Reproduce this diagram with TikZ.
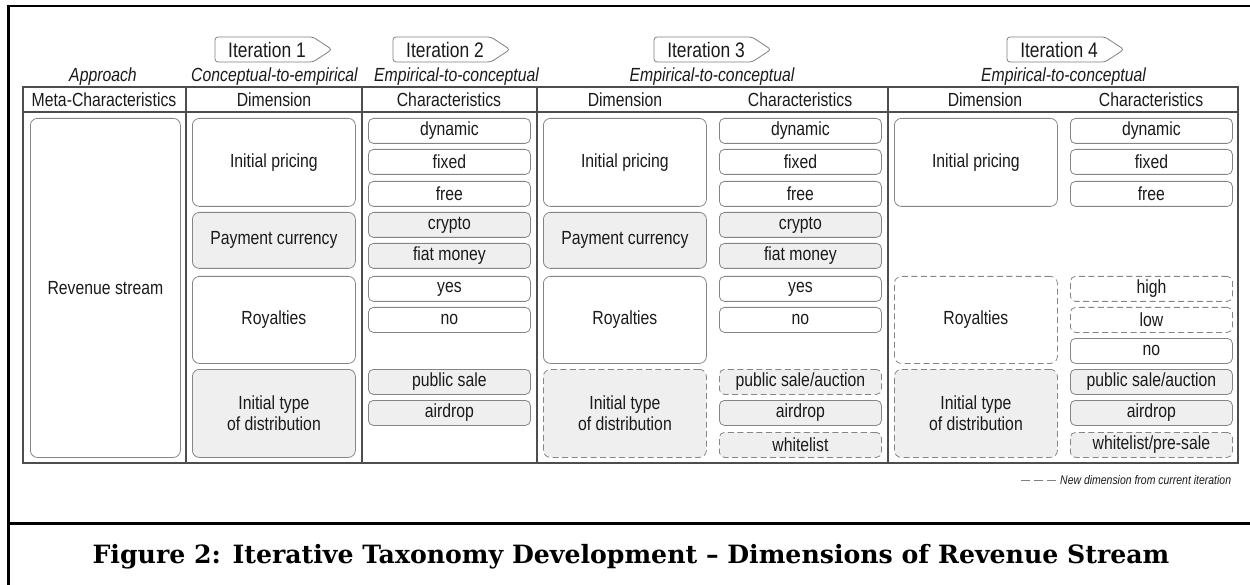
\documentclass[tikz,border=0pt]{standalone}
\usepackage{fontspec}
\setmainfont{Liberation Sans}[FakeStretch=0.83]
\newfontfamily\captionserif{DejaVu Serif}
\definecolor{rulec}{HTML}{4D4D4D}
\definecolor{boxc}{HTML}{858585}
\definecolor{boxfill}{HTML}{EFEFEF}
\definecolor{tagc}{HTML}{808080}
\definecolor{txt}{HTML}{1A1A1A}
\newcommand\bodyfont{\fontsize{19pt}{21pt}\selectfont}
\tikzset{
  tablerule/.style={draw=rulec, line width=1.1pt},
  frame/.style={draw=black, line width=2.7pt},
  box/.style={draw=boxc, line width=0.8pt, rounded corners=5pt, anchor=north west,
    inner sep=0pt, align=center, font=\bodyfont, text=txt},
  dimbox/.style={box, minimum width=163pt, rounded corners=7pt},
  chbox/.style={box, minimum width=162pt, minimum height=25pt},
  shade/.style={fill=boxfill},
  newdim/.style={dash pattern=on 6pt off 3.5pt},
  headtext/.style={font=\bodyfont, text=txt, inner sep=0pt},
  tagtext/.style={font=\fontsize{21pt}{23pt}\selectfont, text=txt, inner sep=0pt},
  approach/.style={font=\bodyfont\itshape, text=txt, inner sep=0pt, anchor=base},
  tagline/.style={draw=tagc, line width=0.8pt, rounded corners=3pt},
}
\begin{document}
\begin{tikzpicture}[x=1pt, y=-1pt]
\useasboundingbox (0,0) rectangle (1250,585);
\clip (0,0) rectangle (1250,585);

% outer frame and caption divider
\draw[frame] (8.5,620) -- (8.5,6) -- (1300,6);
\draw[frame] (8.5,523.3) -- (1300,523.3);

% iteration tags
\foreach \L/\n in {215/1, 393/2, 654/3, 1007/4}{
  \node[tagtext] (tag\n) at (\L+52,49.5) {Iteration \n};
  \draw[tagline] (\L,37) -- ++(98,0) -- ++(19,12.5) -- ++(-19,12.5) -- ++(-98,0) -- cycle;
}

% approach row
\node[approach] (apL) at (103,82) {Approach};
\node[approach] (ap1) at (274.5,82) {Conceptual-to-empirical};
\node[approach] (ap2) at (456.5,82) {Empirical-to-conceptual};
\node[approach] (ap3) at (712,82) {Empirical-to-conceptual};
\node[approach] (ap4) at (1063.5,82) {Empirical-to-conceptual};

% table rules
\draw[tablerule] (23,87) rectangle (1238,463);
\draw[tablerule] (23,112) -- (1238,112);
\foreach \x in {186, 362, 537, 888}{
  \draw[tablerule] (\x,87) -- (\x,463);
}

% header row
\node[headtext] (hMeta) at (104,100) {Meta-Characteristics};
\node[headtext] (hD1) at (274,100) {Dimension};
\node[headtext] (hC2) at (449,100) {Characteristics};
\node[headtext] (hD3) at (625,100) {Dimension};
\node[headtext] (hC3) at (800,100) {Characteristics};
\node[headtext] (hD4) at (985,100) {Dimension};
\node[headtext] (hC4) at (1151,100) {Characteristics};

% meta-characteristic
\node[box, minimum width=150pt, minimum height=339pt, rounded corners=7pt] (meta) at (30,118) {Revenue stream};

% iteration 1: dimensions
\node[dimbox, minimum height=88pt] (d1a) at (192,118) {Initial pricing};
\node[dimbox, shade, minimum height=56pt] (d1b) at (192,212) {Payment currency};
\node[dimbox, minimum height=87pt] (d1c) at (192,276) {Royalties};
\node[dimbox, shade, minimum height=88pt] (d1d) at (192,369) {Initial type\\of distribution};

% iteration 2: characteristics
\node[chbox] (c2a) at (368,118) {dynamic};
\node[chbox] (c2b) at (368,149) {fixed};
\node[chbox] (c2c) at (368,181) {free};
\node[chbox, shade] (c2d) at (368,212) {crypto};
\node[chbox, shade] (c2e) at (368,243) {fiat money};
\node[chbox] (c2f) at (368,276) {yes};
\node[chbox] (c2g) at (368,307) {no};
\node[chbox, shade] (c2h) at (368,369) {public sale};
\node[chbox, shade] (c2i) at (368,400) {airdrop};

% iteration 3: dimensions
\node[dimbox, minimum height=88pt] (d3a) at (543,118) {Initial pricing};
\node[dimbox, shade, minimum height=56pt] (d3b) at (543,212) {Payment currency};
\node[dimbox, minimum height=87pt] (d3c) at (543,276) {Royalties};
\node[dimbox, shade, newdim, minimum height=88pt] (d3d) at (543,369) {Initial type\\of distribution};

% iteration 3: characteristics
\node[chbox] (c3a) at (719,118) {dynamic};
\node[chbox] (c3b) at (719,149) {fixed};
\node[chbox] (c3c) at (719,181) {free};
\node[chbox, shade] (c3d) at (719,212) {crypto};
\node[chbox, shade] (c3e) at (719,243) {fiat money};
\node[chbox] (c3f) at (719,276) {yes};
\node[chbox] (c3g) at (719,307) {no};
\node[chbox, shade, newdim] (c3h) at (719,369) {public sale/auction};
\node[chbox, shade] (c3i) at (719,400) {airdrop};
\node[chbox, shade, newdim] (c3j) at (719,432) {whitelist};

% iteration 4: dimensions
\node[dimbox, minimum height=88pt] (d4a) at (894,118) {Initial pricing};
\node[dimbox, newdim, minimum height=87pt] (d4c) at (894,276) {Royalties};
\node[dimbox, shade, newdim, minimum height=88pt] (d4d) at (894,369) {Initial type\\of distribution};

% iteration 4: characteristics
\node[chbox] (c4a) at (1070,118) {dynamic};
\node[chbox] (c4b) at (1070,149) {fixed};
\node[chbox] (c4c) at (1070,181) {free};
\node[chbox, newdim] (c4d) at (1070,276) {high};
\node[chbox, newdim] (c4e) at (1070,307) {low};
\node[chbox] (c4f) at (1070,338) {no};
\node[chbox, shade] (c4g) at (1070,369) {public sale/auction};
\node[chbox, shade] (c4h) at (1070,400) {airdrop};
\node[chbox, shade, newdim] (c4i) at (1070,432) {whitelist/pre-sale};

% legend
\coordinate (lgA) at (1021,480);
\coordinate (lgB) at (1056,480);
\draw[draw=tagc, line width=0.8pt, dash pattern=on 9pt off 4pt] (lgA) -- (lgB);
\node[anchor=west, inner sep=0pt, text=txt, font=\fontsize{12.6pt}{14pt}\selectfont\itshape] (lgtext) at (1060,480) {New dimension from current iteration};

% caption
\node[font=\captionserif\bfseries\fontsize{25.2pt}{29pt}\selectfont, text=black, inner sep=0pt] (cap) at (631,557) {Figure 2: Iterative Taxonomy Development – Dimensions of Revenue Stream};
\end{tikzpicture}
\end{document}
